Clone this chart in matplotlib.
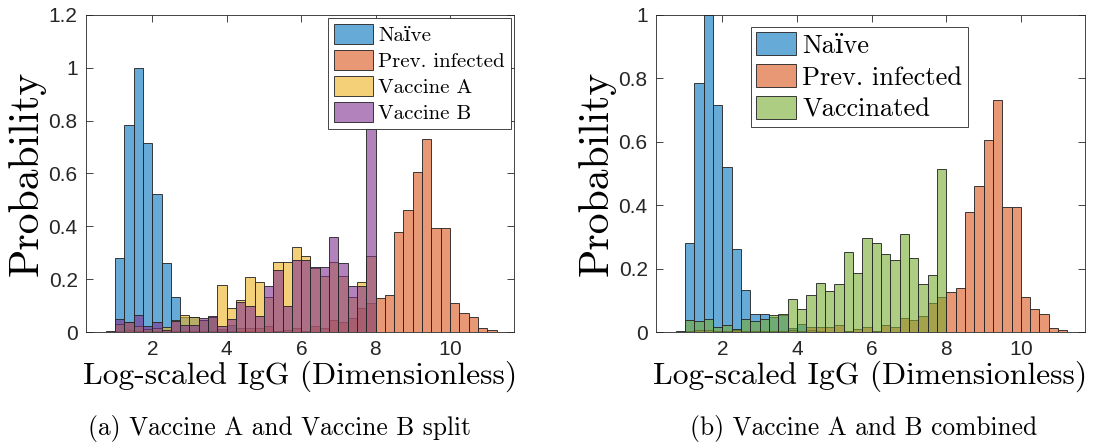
import numpy as np
import matplotlib
matplotlib.use("Agg")
import matplotlib.pyplot as plt
from matplotlib.ticker import FuncFormatter

# histogram bins: 0.25 wide, starting at 0.75
bin_start = 0.75
bin_width = 0.25

naive = [0.003, 0.28, 0.784, 1.0, 0.717, 0.521, 0.262, 0.131, 0.057, 0.057,
         0.047, 0.055, 0.012, 0.025, 0.005, 0.002, 0.0, 0.0, 0.002, 0.0,
         0.0, 0.003]
prev_infected = [0.0, 0.003, 0.006, 0.005, 0.003, 0.003, 0.006, 0.002, 0.002, 0.003,
                 0.002, 0.003, 0.005, 0.004, 0.015, 0.015, 0.015, 0.021, 0.003, 0.008,
                 0.015, 0.003, 0.021, 0.015, 0.045, 0.037, 0.052, 0.09, 0.111, 0.127,
                 0.14, 0.38, 0.462, 0.605, 0.732, 0.395, 0.395, 0.111, 0.073, 0.058,
                 0.014, 0.006]
vaccine_a = [0.0, 0.032, 0.036, 0.024, 0.012, 0.014, 0.02, 0.045, 0.066, 0.058,
             0.045, 0.055, 0.178, 0.089, 0.123, 0.209, 0.188, 0.133, 0.265, 0.264,
             0.32, 0.287, 0.243, 0.211, 0.265, 0.211, 0.132, 0.188, 0.287]
vaccine_b = [0.0, 0.05, 0.038, 0.063, 0.024, 0.036, 0.008, 0.042, 0.025, 0.025,
             0.053, 0.062, 0.024, 0.051, 0.113, 0.098, 0.061, 0.173, 0.235, 0.098,
             0.272, 0.272, 0.247, 0.246, 0.358, 0.26, 0.173, 0.173, 0.768]
vaccinated = [0.0, 0.039, 0.035, 0.04, 0.017, 0.023, 0.011, 0.04, 0.035, 0.04,
              0.053, 0.058, 0.105, 0.071, 0.116, 0.156, 0.129, 0.151, 0.251, 0.186,
              0.296, 0.28, 0.245, 0.227, 0.309, 0.232, 0.15, 0.18, 0.513]

labels_a = ["Na\u00efve", "Prev. infected", "Vaccine A", "Vaccine B"]
labels_b = ["Na\u00efve", "Prev. infected", "Vaccinated"]
captions = ["(a) Vaccine A and Vaccine B split", "(b) Vaccine A and B combined"]

# MATLAB default colour order
c_blue = (0.0, 0.447, 0.741)
c_orange = (0.85, 0.325, 0.098)
c_yellow = (0.929, 0.694, 0.125)
c_purple = (0.494, 0.184, 0.556)
c_green = (0.466, 0.674, 0.188)
dark = (0.15, 0.15, 0.15)

SERIF = ["cmr10", "DejaVu Serif"]
SANS = "Liberation Sans"
plt.rcParams["axes.formatter.use_mathtext"] = True


def draw_hist(ax, values, color, label):
    edges = bin_start + bin_width * np.arange(len(values))
    return ax.bar(edges, values, width=bin_width, align="edge",
                  facecolor=color + (0.6,), edgecolor=dark + (0.9,),
                  linewidth=0.7, label=label)


def style_axes(ax, ymax):
    ax.set_xlim(0.22, 11.72)
    ax.set_ylim(0, ymax)
    ax.set_xticks([2, 4, 6, 8, 10])
    ax.set_yticks(np.arange(0, ymax + 0.01, 0.2))
    ax.yaxis.set_major_formatter(FuncFormatter(lambda v, p: "%g" % round(v, 2)))
    ax.tick_params(direction="in", top=True, right=True, length=5, width=0.6,
                   color=dark, labelsize=15, pad=6)
    for lab in ax.get_xticklabels() + ax.get_yticklabels():
        lab.set_family(SANS)
        lab.set_color(dark)
    for sp in ax.spines.values():
        sp.set_color(dark)
        sp.set_linewidth(0.6)
    ax.set_xlabel("Log-scaled IgG (Dimensionless)", family=SERIF, fontsize=22.7, labelpad=1)
    ax.set_ylabel("Probability", family=SERIF, fontsize=30, labelpad=2)


fig = plt.figure(figsize=(10.93, 4.44), dpi=100)
ax1 = fig.add_axes([86 / 1093, 112 / 444, 428 / 1093, 317 / 444])
ax2 = fig.add_axes([656 / 1093, 112 / 444, 429 / 1093, 317 / 444])

draw_hist(ax1, naive, c_blue, labels_a[0])
draw_hist(ax1, prev_infected, c_orange, labels_a[1])
draw_hist(ax1, vaccine_a, c_yellow, labels_a[2])
draw_hist(ax1, vaccine_b, c_purple, labels_a[3])
style_axes(ax1, 1.2)
leg1 = ax1.legend(loc="upper right", prop={"family": SERIF, "size": 15},
                  fancybox=False, edgecolor=dark, framealpha=1,
                  handlelength=1.85, handleheight=1.05, handletextpad=0.25,
                  labelspacing=0.25, borderpad=0.3, borderaxespad=0.15)
leg1.get_frame().set_linewidth(0.6)

draw_hist(ax2, naive, c_blue, labels_b[0])
draw_hist(ax2, prev_infected, c_orange, labels_b[1])
draw_hist(ax2, vaccinated, c_green, labels_b[2])
style_axes(ax2, 1.0)
leg2 = ax2.legend(loc="upper left", bbox_to_anchor=(0.221, 0.962),
                  borderaxespad=0,
                  prop={"family": SERIF, "size": 19}, fancybox=False,
                  edgecolor=dark, framealpha=1,
                  handlelength=1.5, handleheight=0.95, handletextpad=0.25,
                  labelspacing=0.25, borderpad=0.2)
leg2.get_frame().set_linewidth(0.6)

fig.text(279 / 1093, 16 / 444, captions[0], ha="center", va="center",
         family=SERIF, fontsize=18.3)
fig.text(864 / 1093, 16 / 444, captions[1], ha="center", va="center",
         family=SERIF, fontsize=18.3)

fig.savefig("out.png", dpi=100)
